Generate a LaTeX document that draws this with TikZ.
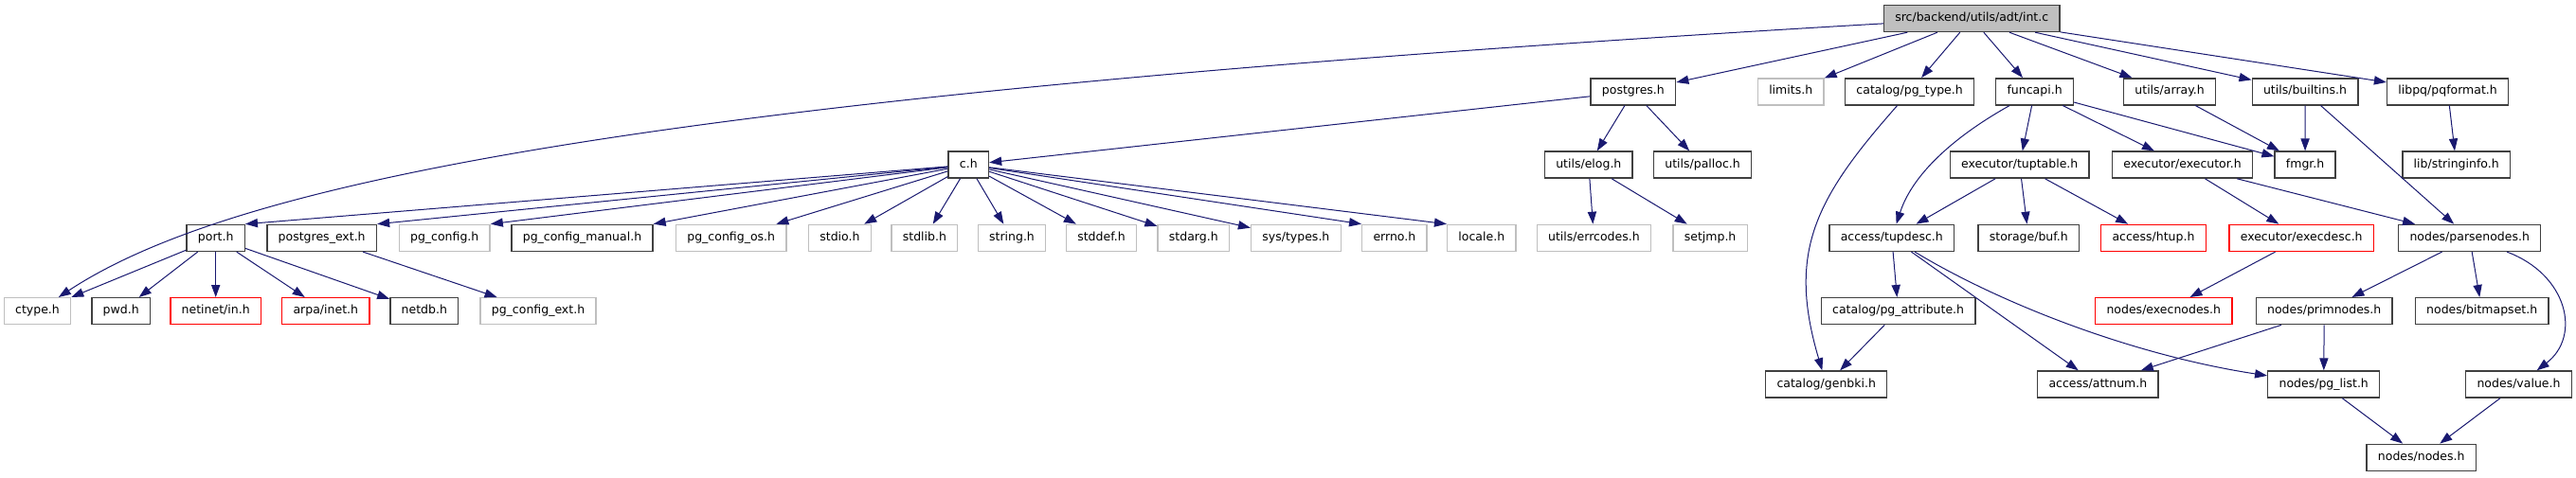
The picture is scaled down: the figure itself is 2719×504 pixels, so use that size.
\documentclass[tikz,border=0pt]{standalone}
\usepackage{fontspec}
\setmainfont{DejaVu Sans}
\usetikzlibrary{arrows.meta}
\definecolor{dxedge}{HTML}{191970}
\definecolor{dxgray}{HTML}{BFBFBF}
\definecolor{dxline}{HTML}{404040}

\begin{document}
\begin{tikzpicture}[x=0.5pt,y=-0.5pt,>={Triangle[length=6.5pt,width=4.6pt]}]
    \tikzset{hdr/.style={draw=dxline,line width=0.7pt,fill=white,minimum height=14pt,inner xsep=5.9pt,inner ysep=0pt,text height=4.6pt,text depth=1.5pt,font=\fontsize{6.25}{7.5}\selectfont},
      sys/.style={hdr,draw=dxgray}, miss/.style={hdr,draw=red}, root/.style={hdr,fill=dxgray},
      dep/.style={->,dxedge,line width=0.5pt}}
    \useasboundingbox (0,0) rectangle (2719,504);
    \node[root] (intc) at (2081.2,19.5) {src/backend/utils/adt/int.c};
    \node[hdr] (postgres) at (1723.9,96.8) {postgres.h};
    \node[sys] (limits) at (1890.2,96.8) {limits.h};
    \node[hdr] (pgtype) at (2015.6,96.8) {catalog/pg\_type.h};
    \node[hdr] (funcapi) at (2147.6,96.8) {funcapi.h};
    \node[hdr] (array) at (2290.1,96.8) {utils/array.h};
    \node[hdr] (builtins) at (2433,96.8) {utils/builtins.h};
    \node[hdr] (pqformat) at (2583.6,96.8) {libpq/pqformat.h};
    \node[hdr] (ch) at (1022.3,174.1) {c.h};
    \node[hdr] (elog) at (1676.8,174.1) {utils/elog.h};
    \node[hdr] (palloc) at (1797.1,174.1) {utils/palloc.h};
    \node[hdr] (tuptable) at (2131.7,174.1) {executor/tuptable.h};
    \node[hdr] (executor) at (2303.6,174.1) {executor/executor.h};
    \node[hdr] (fmgr) at (2433.1,174.1) {fmgr.h};
    \node[hdr] (stringinfo) at (2592.7,174.1) {lib/stringinfo.h};
    \node[hdr] (port) at (227.7,251.4) {port.h};
    \node[hdr] (pgext) at (339.7,251.4) {postgres\_ext.h};
    \node[sys] (pgconfig) at (469.2,251.4) {pg\_config.h};
    \node[hdr] (pgmanual) at (614.5,251.4) {pg\_config\_manual.h};
    \node[sys] (pgcfgos) at (771.7,251.4) {pg\_config\_os.h};
    \node[sys] (stdio) at (886.4,251.4) {stdio.h};
    \node[sys] (stdlib) at (975.9,251.4) {stdlib.h};
    \node[sys] (stringh) at (1068,251.4) {string.h};
    \node[sys] (stddef) at (1162.5,251.4) {stddef.h};
    \node[sys] (stdarg) at (1259.8,251.4) {stdarg.h};
    \node[sys] (systypes) at (1367.9,251.4) {sys/types.h};
    \node[sys] (errno) at (1471.9,251.4) {errno.h};
    \node[sys] (locale) at (1563.8,251.4) {locale.h};
    \node[sys] (errcodes) at (1682.4,251.4) {utils/errcodes.h};
    \node[sys] (setjmp) at (1805.1,251.4) {setjmp.h};
    \node[hdr] (tupdesc) at (1996.8,251.4) {access/tupdesc.h};
    \node[hdr] (buf) at (2141.3,251.4) {storage/buf.h};
    \node[miss] (htup) at (2273,251.4) {access/htup.h};
    \node[miss] (execdesc) at (2429.2,251.4) {executor/execdesc.h};
    \node[hdr] (parsenodes) at (2606.7,251.4) {nodes/parsenodes.h};
    \node[sys] (ctype) at (39.5,328.7) {ctype.h};
    \node[hdr] (pwd) at (127.7,328.7) {pwd.h};
    \node[miss] (netinet) at (227.7,328.7) {netinet/in.h};
    \node[miss] (arpa) at (343.8,328.7) {arpa/inet.h};
    \node[hdr] (netdb) at (447.8,328.7) {netdb.h};
    \node[sys] (pgcfgext) at (568,328.7) {pg\_config\_ext.h};
    \node[hdr] (pgattr) at (2003.6,328.7) {catalog/pg\_attribute.h};
    \node[miss] (execnodes) at (2283.8,328.7) {nodes/execnodes.h};
    \node[hdr] (primnodes) at (2453.2,328.7) {nodes/primnodes.h};
    \node[hdr] (bitmapset) at (2619.7,328.7) {nodes/bitmapset.h};
    \node[hdr] (genbki) at (1927.7,406) {catalog/genbki.h};
    \node[hdr] (attnum) at (2214.4,406) {access/attnum.h};
    \node[hdr] (pglist) at (2452.7,406) {nodes/pg\_list.h};
    \node[hdr] (value) at (2658.5,406) {nodes/value.h};
    \node[hdr] (nodes) at (2555.7,483.3) {nodes/nodes.h};
    \draw[dep] (intc) .. controls (700,100) and (250,190) .. (ctype);
    \foreach \n in {postgres,limits,pgtype,funcapi,array,builtins,pqformat}
      \draw[dep] (intc) -- (\n);
    \draw[dep] (postgres) -- (ch);
    \draw[dep] (postgres) -- (elog);
    \draw[dep] (postgres) -- (palloc);
    \draw[dep] (pgtype) .. controls (1916,209.5) and (1886,266) .. (genbki);
    \draw[dep] (funcapi) .. controls (2070,140) and (2020,180) .. (tupdesc);
    \draw[dep] (funcapi) -- (tuptable);
    \draw[dep] (funcapi) -- (executor);
    \draw[dep] (funcapi) -- (fmgr);
    \draw[dep] (array) -- (fmgr);
    \draw[dep] (builtins) -- (fmgr);
    \draw[dep] (builtins) -- (parsenodes);
    \draw[dep] (pqformat) -- (stringinfo);
    \foreach \n in {port,pgext,pgconfig,pgmanual}
      \draw[dep] (ch) -- (\n.north east);
    \foreach \n in {pgcfgos,stdio,stdlib,stringh,stddef,stdarg,systypes}
      \draw[dep] (ch) -- (\n);
    \draw[dep] (ch) -- (errno.north west);
    \draw[dep] (ch) -- (locale.north west);
    \foreach \n in {ctype,pwd,netinet,arpa,netdb}
      \draw[dep] (port) -- (\n);
    \draw[dep] (pgext) -- (pgcfgext);
    \draw[dep] (elog) -- (errcodes);
    \draw[dep] (elog) -- (setjmp);
    \draw[dep] (tuptable) -- (tupdesc);
    \draw[dep] (tuptable) -- (buf);
    \draw[dep] (tuptable) -- (htup);
    \draw[dep] (executor) -- (execdesc);
    \draw[dep] (executor) -- (parsenodes);
    \draw[dep] (tupdesc) -- (pgattr);
    \draw[dep] (tupdesc) -- (attnum);
    \draw[dep] (tupdesc) .. controls (2110,320) and (2250,375) .. (pglist);
    \draw[dep] (execdesc) -- (execnodes);
    \draw[dep] (parsenodes) -- (primnodes);
    \draw[dep] (parsenodes) -- (bitmapset);
    \draw[dep] (parsenodes) .. controls (2710,290) and (2725,355) .. (value);
    \draw[dep] (pgattr) -- (genbki);
    \draw[dep] (primnodes) -- (attnum);
    \draw[dep] (primnodes) -- (pglist);
    \draw[dep] (pglist) -- (nodes);
    \draw[dep] (value) -- (nodes);
  \end{tikzpicture}
\end{document}
